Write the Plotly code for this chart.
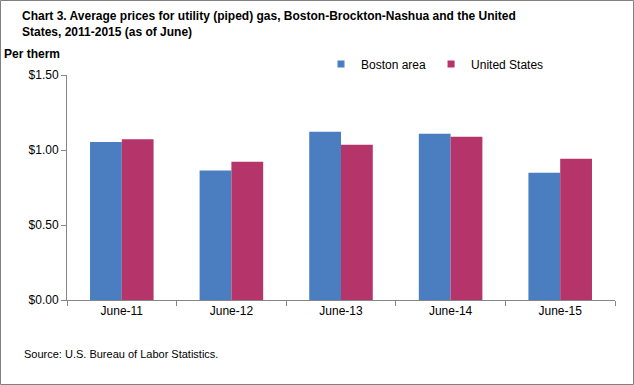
import plotly.graph_objects as go

categories = ["June-11", "June-12", "June-13", "June-14", "June-15"]
boston = [1.053, 0.864, 1.121, 1.108, 0.849]
us = [1.072, 0.921, 1.035, 1.089, 0.942]
tick_vals = [0, 0.5, 1.0, 1.5]
tick_text = ["$0.00", "$0.50", "$1.00", "$1.50"]
series_names = ["Boston area", "United States"]
colors = ["#4A7EC0", "#B5346A"]

W, H = 634, 385
L, R, T, B = 67, 615, 75, 300

fig = go.Figure()
for name, vals, col in zip(series_names, [boston, us], colors):
    fig.add_trace(go.Bar(x=categories, y=vals, name=name, marker=dict(color=col, line=dict(width=0)),
                         showlegend=False))
for name, col in zip(series_names, colors):
    fig.add_trace(go.Scatter(x=[None], y=[None], mode="markers", name=name,
                             marker=dict(symbol="square", size=7, color=col)))

font = "Arial, Liberation Sans, sans-serif"
fig.update_layout(
    width=W, height=H,
    margin=dict(l=L, r=W - R, t=T, b=H - B, pad=0),
    paper_bgcolor="white", plot_bgcolor="white",
    barmode="group", bargap=0.42, bargroupgap=0,
    font=dict(family=font, size=12, color="black"),
    showlegend=True,
    legend=dict(orientation="h", x=(321 - L) / (R - L), y=(T - 64) / (B - T) + 1, xanchor="left", yanchor="middle",
                font=dict(size=12), itemwidth=30, bgcolor="rgba(0,0,0,0)", traceorder="normal"),
    xaxis=dict(showline=True, linecolor="#868686", linewidth=1, ticks="outside", tickcolor="#868686", ticklen=5,
               tickson="boundaries", tickfont=dict(size=12), showgrid=False, fixedrange=True),
    yaxis=dict(range=[0, 1.5], tickvals=tick_vals, ticktext=tick_text, showline=True, linecolor="#868686",
               linewidth=1, ticks="outside", tickcolor="#868686", ticklen=5, showgrid=False, zeroline=False,
               tickfont=dict(size=12), fixedrange=True),
)

def px(x):
    return (x - L) / (R - L)

def py(y):
    return (B - y) / (B - T)

fig.add_annotation(x=px(20), y=py(24), xref="paper", yref="paper", xanchor="left", yanchor="middle", align="left",
                   showarrow=False, text="<b>Chart 3. Average prices for utility (piped) gas, Boston-Brockton-Nashua and the United<br>States, 2011-2015 (as of June)</b>",
                   font=dict(size=12, family=font))
fig.add_annotation(x=px(2), y=py(54), xref="paper", yref="paper", xanchor="left", yanchor="middle",
                   showarrow=False, text="<b>Per therm</b>", font=dict(size=12, family=font))
fig.add_annotation(x=px(22), y=py(354), xref="paper", yref="paper", xanchor="left", yanchor="middle",
                   showarrow=False, text="Source: U.S. Bureau of Labor Statistics.", font=dict(size=11, family=font))
fig.add_shape(type="rect", xref="paper", yref="paper", x0=px(0.5), x1=px(W - 0.5), y0=py(0.5), y1=py(H - 0.5),
              line=dict(color="#808080", width=1), fillcolor="rgba(0,0,0,0)", layer="above")

fig.write_html("out.html", config={"displayModeBar": False},
               post_script="document.body.style.margin='0';document.body.style.padding='0';")
